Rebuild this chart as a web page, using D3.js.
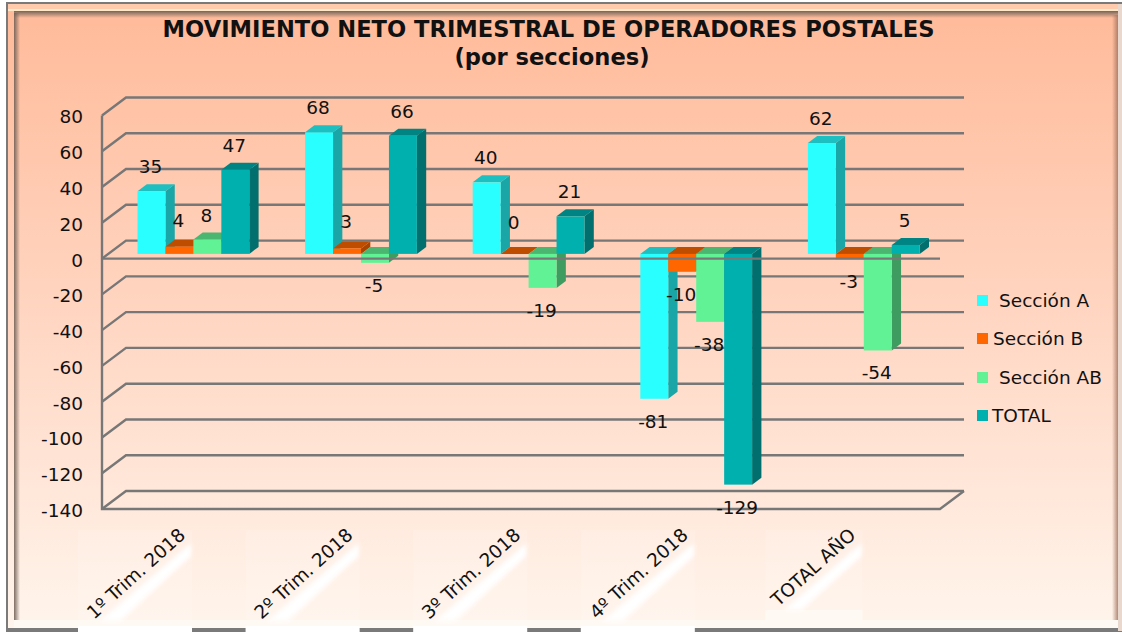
<!DOCTYPE html>
<html><head><meta charset="utf-8">
<script src="https://cdn.jsdelivr.net/npm/d3@7"></script>
<style>html,body{margin:0;padding:0;background:#fff}svg{display:block}text{font-family:"DejaVu Sans",Verdana,sans-serif;fill:#111}</style>
</head><body><div id="chart"></div>
<script>
const categories=["1º Trim. 2018","2º Trim. 2018","3º Trim. 2018","4º Trim. 2018","TOTAL AÑO"];
const seriesNames=["Sección A","Sección B","Sección AB","TOTAL"];
const seccionA=[35,68,40,-81,62];
const seccionB=[4,3,0,-10,-3];
const seccionAB=[8,-5,-19,-38,-54];
const total=[47,66,21,-129,5];
const seriesValues=[seccionA,seccionB,seccionAB,total];
const yTicks=d3.range(-140,81,20);
const colors=["#2AFFFF","#FF6600","#62F296","#00B0AE"];
const topColors=["#1DBFC0","#BF4D00","#4AB670","#008483"];
const sideColors=["#1AA5A6","#A84400","#3E9C60","#006F6E"];

const W=1122,H=632;
const svg=d3.select("#chart").append("svg").attr("width",W).attr("height",H);
const defs=svg.append("defs");
function grad(id,x2,y2,stops){
  const g=defs.append("linearGradient").attr("id",id).attr("x1",0).attr("y1",0).attr("x2",x2).attr("y2",y2);
  stops.forEach(s=>g.append("stop").attr("offset",s[0]).attr("stop-color",s[1]).attr("stop-opacity",s[2]===undefined?1:s[2]));
}
grad("bg",0,1,[[0,"#FFBA99"],[0.5,"#FFD6C2"],[1,"#FFF5EC"]]);
grad("shadeTop",0,1,[[0,"#6f5f55",0.95],[1,"#6f5f55",0]]);
grad("shadeLeft",1,0,[[0,"#6f5f55",0.9],[1,"#6f5f55",0]]);
grad("shadeRight",1,0,[[0,"#a0705a",0],[1,"#a0705a",0.8]]);
defs.append("filter").attr("id","blur").attr("x","-20%").attr("y","-20%").attr("width","140%").attr("height","140%")
  .append("feGaussianBlur").attr("stdDeviation",2);

const dx=24,dy=-18,barDx=9.3,barDy=-7,baseShift=-4.7;
const y=d3.scaleLinear().domain([-140,80]).range([509,115.5]);
const x0=d3.scaleBand().domain(categories).range([102,940]);
const x1=d3.scaleBand().domain(d3.range(4)).range([35.5,147.3]);
const gridCol="#777";

// frame: outer line, bevel bands, panel
svg.append("rect").attr("x",6).attr("y",2).attr("width",1116).attr("height",630).attr("fill","#7a7a7a");
svg.append("rect").attr("x",8).attr("y",4).attr("width",1114).attr("height",624).attr("fill","url(#bg)");
svg.append("rect").attr("x",8).attr("y",4).attr("width",1114).attr("height",5).attr("fill","#FFCBAC");
svg.append("rect").attr("x",8).attr("y",9).attr("width",1114).attr("height",2).attr("fill","#FFE9C8");
svg.append("rect").attr("x",14).attr("y",11).attr("width",1108).attr("height",7).attr("fill","url(#shadeTop)");
svg.append("rect").attr("x",14).attr("y",13).attr("width",6).attr("height",607).attr("fill","url(#shadeLeft)");
svg.append("rect").attr("x",1112).attr("y",15).attr("width",6).attr("height",605).attr("fill","url(#shadeRight)");
svg.append("rect").attr("x",14).attr("y",620).attr("width",1104).attr("height",8).attr("fill","#FFF9F3");
svg.append("rect").attr("x",1118).attr("y",4).attr("width",4).attr("height",627).attr("fill","#e9d8cd");

// pale label boxes with diagonal highlights, left behind the rotated labels
categories.forEach((c,i)=>{
  const last=i===categories.length-1;
  const L=x0(c)+(last?-7:-24), w=last?97:114, bottom=last?610:632;
  svg.append("rect").attr("x",L).attr("y",530).attr("width",w).attr("height",bottom-530).attr("fill","#fff").attr("opacity",0.14);
  if(last) svg.append("rect").attr("x",L).attr("y",610).attr("width",w).attr("height",10).attr("fill","#FFF9F3");
  else svg.append("rect").attr("x",L).attr("y",626).attr("width",w).attr("height",6).attr("fill","#fff");
  const k=last?w/114:1, b=last?610:621;
  svg.append("path").attr("d",`M${L+113*k},543L${L+22*k},${b}L${L+42*k},${b}L${L+113*k},556Z`)
    .attr("fill","#fff").attr("filter","url(#blur)");
});

const grid=svg.append("g").attr("fill","none").attr("stroke",gridCol).attr("stroke-width",2.4);
yTicks.forEach(t=>{
  const yy=y(t);
  grid.append("path").attr("d",`M102,${yy}L${102+dx},${yy+dy}L${940+dx},${yy+dy}`);
});
grid.append("path").attr("d",`M102,${y(80)}L102,${y(-140)}L940,${y(-140)}L${940+dx},${y(-140)+dy}`);

// bars
const by=v=>y(v)+baseShift;
categories.forEach((c,i)=>{
  seriesValues.forEach((vals,s)=>{
    const v=vals[i], xa=x0(c)+x1(s), w=x1.bandwidth();
    const yt=Math.min(by(v),by(0)), yb=Math.max(by(v),by(0));
    const b=svg.append("g");
    b.append("path").attr("fill",sideColors[s]).attr("d",`M${xa+w},${yt}L${xa+w+barDx},${yt+barDy}L${xa+w+barDx},${yb+barDy}L${xa+w},${yb}Z`);
    b.append("path").attr("fill",topColors[s]).attr("d",`M${xa},${yt}L${xa+barDx},${yt+barDy}L${xa+w+barDx},${yt+barDy}L${xa+w},${yt}Z`);
    b.append("rect").attr("x",xa).attr("y",yt).attr("width",w).attr("height",yb-yt).attr("fill",colors[s]);
  });
});
// front zero line runs across the bars
svg.append("path").attr("fill","none").attr("stroke",gridCol).attr("stroke-width",2.4).attr("d",`M102,${y(0)}L940,${y(0)}`);

// value labels
categories.forEach((c,i)=>{
  seriesValues.forEach((vals,s)=>{
    const v=vals[i], xa=x0(c)+x1(s)+x1.bandwidth()/2-1;
    const ly=v>=0?by(v)-18-Math.max(0,(5-v)*1.4):by(v)+29;
    svg.append("text").attr("x",xa).attr("y",ly).attr("text-anchor","middle").attr("font-size",18.5).text(v);
  });
});
// y axis labels
const axis=d3.axisLeft(y).tickValues(yTicks).tickSize(0).tickPadding(0).tickFormat(d=>String(d));
const ax=svg.append("g").attr("transform","translate(83,1.5)").call(axis);
ax.select(".domain").remove();
ax.selectAll("text").attr("font-size",18.5).style("font-family",'"DejaVu Sans"').attr("fill","#111");

// x labels
categories.forEach(c=>{
  const cx=x0(c)+x0.bandwidth()/2;
  svg.append("text").attr("transform",`translate(${cx-8},527) rotate(-42)`).attr("text-anchor","end").attr("dy","0.7em").attr("font-size",18.5).text(c);
});

// title
svg.append("text").attr("x",548.5).attr("y",37).attr("text-anchor","middle").attr("font-size",22.6).attr("font-weight","bold").attr("fill","#000").text("MOVIMIENTO NETO TRIMESTRAL DE OPERADORES POSTALES");
svg.append("text").attr("x",552).attr("y",65).attr("text-anchor","middle").attr("font-size",22.6).attr("font-weight","bold").attr("fill","#000").text("(por secciones)");

// legend
const legendY=[300.5,338.5,377.5,415.5];
const legendTextX=[999,993,999,992];
seriesNames.forEach((n,i)=>{
  svg.append("rect").attr("x",977).attr("y",legendY[i]-5.5).attr("width",11).attr("height",11).attr("fill",colors[i]);
  svg.append("text").attr("x",legendTextX[i]).attr("y",legendY[i]+6.5).attr("font-size",18.5).text(n);
});
</script></body></html>
